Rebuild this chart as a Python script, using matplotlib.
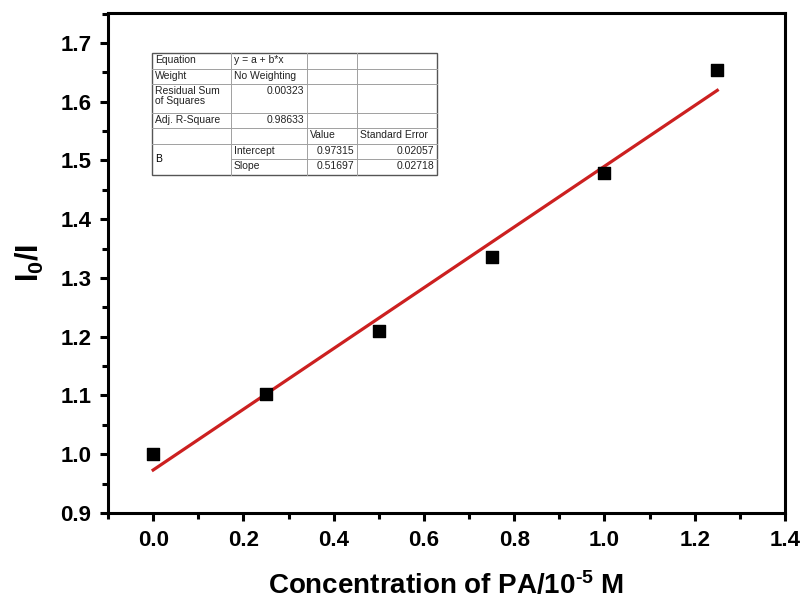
import numpy as np
import matplotlib
matplotlib.use("Agg")
import matplotlib.pyplot as plt
from matplotlib.ticker import MultipleLocator, FormatStrFormatter

plt.rcParams['font.family'] = ['Liberation Sans', 'DejaVu Sans']
plt.rcParams['mathtext.fontset'] = 'custom'
plt.rcParams['mathtext.bf'] = 'Liberation Sans:bold'
plt.rcParams['mathtext.rm'] = 'Liberation Sans:bold'
plt.rcParams['mathtext.default'] = 'bf'

# dados
conc = [0.0, 0.25, 0.5, 0.75, 1.0, 1.25]
i0_i = [1.000, 1.102, 1.210, 1.335, 1.478, 1.654]
intercepto = 0.97315
inclinacao = 0.51697

# tabela do ajuste
tab_col0 = ["Equation", "Weight", "Residual Sum\nof Squares", "Adj. R-Square", "", "B", ""]
tab_col1 = ["y = a + b*x", "No Weighting", "0.00323", "0.98633", "", "Intercept", "Slope"]
tab_col2 = ["", "", "", "", "Value", "0.97315", "0.51697"]
tab_col3 = ["", "", "", "", "Standard Error", "0.02057", "0.02718"]

W, H = 807, 611
fig = plt.figure(figsize=(W / 100, H / 100), dpi=100)
ax = fig.add_axes([108 / W, 1 - 513 / H, (785 - 108) / W, (513 - 13) / H])

ax.scatter(conc, i0_i, marker='s', s=80, color='black', zorder=3)
xfit = np.array([conc[0], conc[-1]])
ax.plot(xfit, intercepto + inclinacao * xfit, color='#cc2020', lw=2.3, zorder=2)

ax.set_xlim(-0.1, 1.4)
ax.set_ylim(0.9, 1.751)
ax.xaxis.set_major_locator(MultipleLocator(0.2))
ax.xaxis.set_minor_locator(MultipleLocator(0.1))
ax.yaxis.set_major_locator(MultipleLocator(0.1))
ax.yaxis.set_minor_locator(MultipleLocator(0.05))
ax.xaxis.set_major_formatter(FormatStrFormatter('%.1f'))
ax.yaxis.set_major_formatter(FormatStrFormatter('%.1f'))

for s in ax.spines.values():
    s.set_linewidth(2.2)
ax.tick_params(which='major', direction='out', length=6, width=2.2, labelsize=16, pad=6)
ax.tick_params(which='minor', direction='out', length=4, width=2.2)
for lab in ax.get_xticklabels() + ax.get_yticklabels():
    lab.set_fontweight('bold')

ax.set_xlabel(r"Concentration of PA/10$^{\text{-5}}$ M", fontsize=20, fontweight='bold', labelpad=15)
ax.set_ylabel("I$_0$/I", fontsize=22, fontweight='bold', labelpad=10)

# desenho da tabela (coordenadas em pixels -> fração da figura)
def fx(px):
    return px / W

def fy(py):
    return 1 - py / H

xc = [152, 231, 307, 357, 437]
yr = [53, 69, 84, 113, 128, 144, 159, 175]
cor_grade = '#a0a0a0'

fig.patches.append(plt.Rectangle((fx(xc[0]), fy(yr[-1])), fx(xc[-1]) - fx(xc[0]),
                                 fy(yr[0]) - fy(yr[-1]), transform=fig.transFigure,
                                 facecolor='white', edgecolor='#555555', lw=1.0, zorder=5))
for x in xc[1:-1]:
    fig.add_artist(plt.Line2D([fx(x), fx(x)], [fy(yr[0]), fy(yr[-1])], color=cor_grade, lw=0.7, zorder=6))
for i, y in enumerate(yr[1:-1], start=1):
    x0 = xc[1] if i == 6 else xc[0]
    fig.add_artist(plt.Line2D([fx(x0), fx(xc[-1])], [fy(y), fy(y)], color=cor_grade, lw=0.7, zorder=6))

colunas = [tab_col0, tab_col1, tab_col2, tab_col3]
fs = 7.5
for c, col in enumerate(colunas):
    for r, txt in enumerate(col):
        if not txt:
            continue
        numero = txt[0].isdigit()
        ytop = yr[r] + 2
        if c == 0 and txt == "B":
            fig.text(fx(xc[0] + 3), fy((yr[5] + yr[7]) / 2), txt, fontsize=fs,
                     ha='left', va='center', zorder=7)
            continue
        if numero:
            fig.text(fx(xc[c + 1] - 3), fy(ytop), txt, fontsize=fs, ha='right', va='top',
                     zorder=7, linespacing=1.05, color='#222222')
        else:
            fig.text(fx(xc[c] + 3), fy(ytop), txt, fontsize=fs, ha='left', va='top',
                     zorder=7, linespacing=1.05, color='#222222')

fig.savefig("out.png", dpi=100)
